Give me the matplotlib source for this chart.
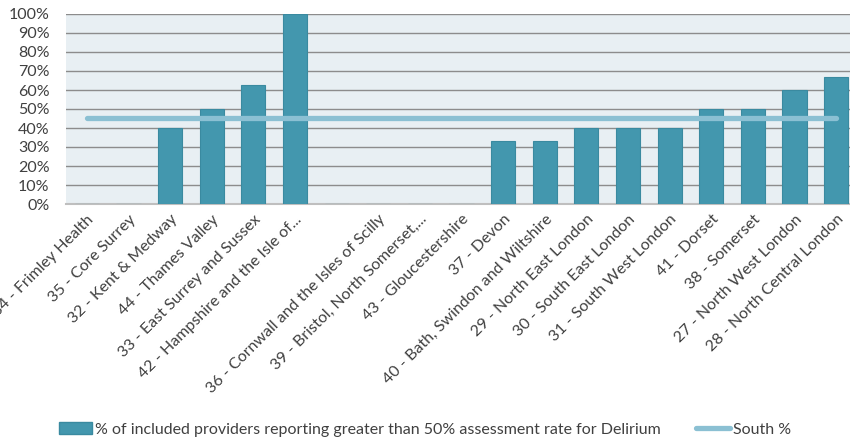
import matplotlib.pyplot as plt
from matplotlib.lines import Line2D
from matplotlib.patches import Patch

plt.rcParams['font.family'] = ['Lato', 'DejaVu Sans']

categories = ['34 - Frimley Health', '35 - Core Surrey', '32 - Kent & Medway', '44 - Thames Valley',
              '33 - East Surrey and Sussex', '42 - Hampshire and the Isle of...', '',
              '36 - Cornwall and the Isles of Scilly', '39 - Bristol, North Somerset,...',
              '43 - Gloucestershire', '37 - Devon', '40 - Bath, Swindon and Wiltshire',
              '29 - North East London', '30 - South East London', '31 - South West London',
              '41 - Dorset', '38 - Somerset', '27 - North West London', '28 - North Central London']
values = [0, 0, 40, 50, 62.5, 100, 0, 0, 0, 0, 33.3, 33.3, 40, 40, 40, 50, 50, 60, 66.7]
south = [45] * len(categories)

bar_col = '#4397AE'
line_col = '#8BC0D3'
txt_col = '#404040'

fig = plt.figure(figsize=(8.5, 4.4), dpi=100)
ax = fig.add_axes([66 / 850, 1 - 204 / 440, (857 - 66) / 850, 190 / 440])
ax.set_facecolor('#E8EFF3')

x = range(len(categories))
ax.bar(x, values, width=0.58, color=bar_col, edgecolor='#3A8AA0', linewidth=0.8, zorder=3)
ax.plot(x, south, color=line_col, linewidth=3.8, solid_capstyle='round', zorder=4)

ax.set_ylim(0, 100)
ax.set_xlim(-0.5, len(categories) - 0.5)
ax.set_yticks(range(0, 101, 10))
ax.set_yticklabels([f'{v}%' for v in range(0, 101, 10)], fontsize=11.5, color=txt_col)
ax.yaxis.grid(True, color='#8C8C8C', linewidth=1, zorder=0)
ax.tick_params(axis='y', length=0, pad=12)
ax.tick_params(axis='x', length=0, pad=6)
ax.set_xticks(list(x))
ax.set_xticklabels(categories, rotation=45, ha='right', rotation_mode='anchor',
                   fontsize=11.5, color=txt_col)
for s in ['top', 'right', 'left']:
    ax.spines[s].set_visible(False)
ax.spines['bottom'].set_color('#BFBFBF')
ax.spines['bottom'].set_linewidth(1.5)

handles = [Patch(facecolor=bar_col, edgecolor='#3A8AA0'),
           Line2D([0], [0], color=line_col, linewidth=3.8, solid_capstyle='round')]
labels = ['% of included providers reporting greater than 50% assessment rate for Delirium', 'South %']
fig.legend(handles, labels, loc='lower center', bbox_to_anchor=(0.5, -0.025), ncol=2, frameon=False,
           fontsize=11.5, handlelength=2.1, handletextpad=0.2, columnspacing=2.2,
           labelcolor=txt_col)

fig.savefig('out.png', dpi=100)
